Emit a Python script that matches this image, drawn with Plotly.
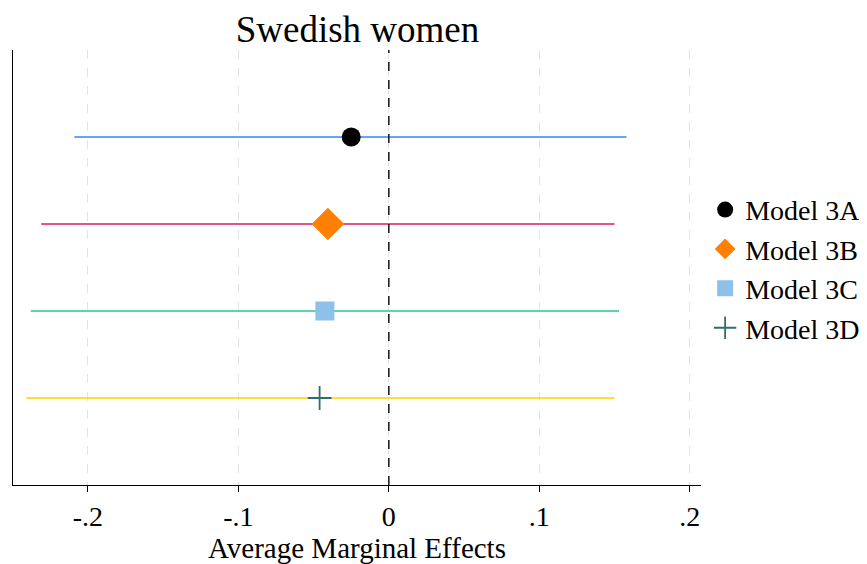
import plotly.graph_objects as go

models = ["Model 3A", "Model 3B", "Model 3C", "Model 3D"]
estimates = [-0.025, -0.0405, -0.0425, -0.046]
ci_low = [-0.209, -0.231, -0.238, -0.241]
ci_high = [0.158, 0.150, 0.153, 0.150]
rows = [1, 2, 3, 4]
line_colors = ["#2f86ff", "#e0195e", "#27c78a", "#ffd000"]
marker_colors = ["#000000", "#ff8000", "#8ec1ea", "#2f6f6b"]
marker_symbols = ["circle", "diamond", "square", "cross-thin"]
marker_sizes = [19, 25, 19, 17]
tick_vals = [-0.2, -0.1, 0, 0.1, 0.2]
tick_text = ["-.2", "-.1", "0", ".1", ".2"]

FONT = "Liberation Serif, Times New Roman, serif"

# the page body adds an 8px margin, so the figure is sized to fill the window
W, H = 859, 556

fig = go.Figure()

for i, m in enumerate(models):
    fig.add_trace(go.Scatter(
        x=[ci_low[i], ci_high[i]], y=[rows[i], rows[i]],
        mode="lines", line=dict(color=line_colors[i], width=1.7),
        showlegend=False, hoverinfo="skip"))

for i, m in enumerate(models):
    mk = dict(color=marker_colors[i], size=marker_sizes[i], symbol=marker_symbols[i])
    if marker_symbols[i] == "cross-thin":
        mk["line"] = dict(color=marker_colors[i], width=1.8)
    else:
        mk["line"] = dict(width=0)
    fig.add_trace(go.Scatter(
        x=[estimates[i]], y=[rows[i]], mode="markers", name=m, marker=mk))

fig.add_shape(type="line", x0=0, x1=0, y0=0, y1=1, xref="x", yref="paper",
              line=dict(color="#222222", width=1.6, dash="dash"))

fig.update_layout(
    width=W, height=H,
    margin=dict(l=5, r=166, t=42, b=79, autoexpand=False),
    paper_bgcolor="white", plot_bgcolor="white",
    font=dict(family=FONT, color="#000000", size=28),
    title=dict(text="Swedish women", x=349.5/W, xref="container", xanchor="center",
               y=1 - 21/H, yref="container", yanchor="middle",
               font=dict(family=FONT, size=37, color="#000000")),
    legend=dict(x=1.006, y=0.69, xanchor="left", yanchor="top",
                font=dict(family=FONT, size=28, color="#000000"),
                itemsizing="trace", tracegroupgap=0, bgcolor="rgba(0,0,0,0)"),
    showlegend=True,
)

fig.update_xaxes(
    range=[-0.2498, 0.2075], tickvals=tick_vals, ticktext=tick_text,
    showline=True, linecolor="#000000", linewidth=1.3,
    ticks="outside", ticklen=6, tickcolor="#000000", tickwidth=1.2,
    showgrid=True, gridcolor="#e3e3e3", griddash="dash", gridwidth=1.4,
    zeroline=False,
    tickfont=dict(family=FONT, size=28, color="#000000"),
    title=dict(text="Average Marginal Effects", standoff=8,
               font=dict(family=FONT, size=29, color="#000000")),
)
fig.update_yaxes(
    range=[5, 0], showticklabels=False, ticks="", showgrid=False, zeroline=False,
    showline=True, linecolor="#000000", linewidth=1.3,
)

fig.write_html("out.html")
